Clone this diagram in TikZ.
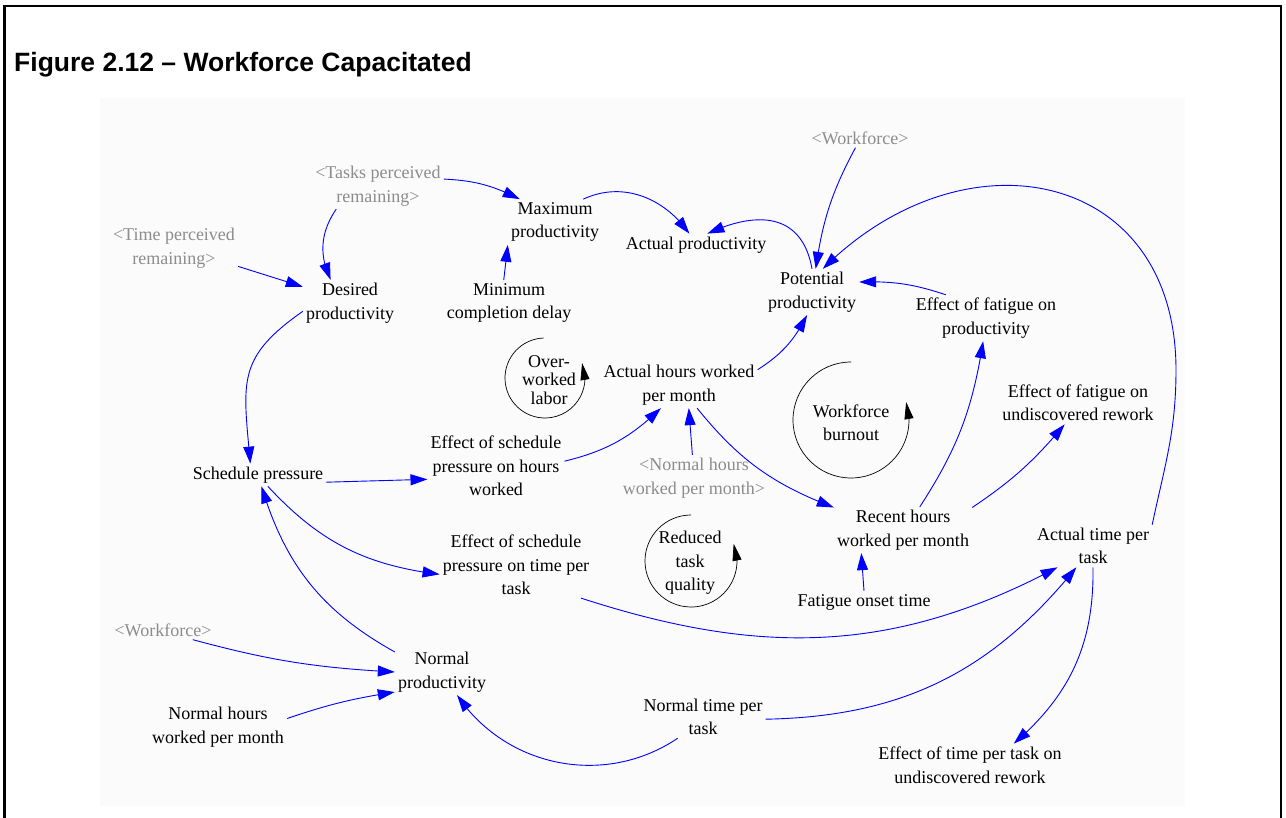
\documentclass[tikz,border=0pt]{standalone}
\usepackage{fontspec}
\setmainfont{Liberation Serif}
\newfontfamily\titlefont{Liberation Sans}
\usetikzlibrary{arrows.meta,bending}

\definecolor{lnkblue}{RGB}{0,0,255}
\definecolor{ghostgray}{RGB}{140,140,140}

\begin{document}
\begin{tikzpicture}[x=1pt,y=1pt,
		var/.style={align=center,inner sep=3pt,font=\fontsize{18}{23.5}\selectfont},
		ghost/.style={var,text=ghostgray},
		lnk/.style={lnkblue,line width=0.9pt,-{Triangle[length=17pt,width=11pt]}},
		cyc/.style={black,line width=0.7pt,-{Triangle[length=17pt,width=9pt,flex]}}]
		
		\useasboundingbox (0,0) rectangle (1286,-818);
		\fill[black!1.5] (100,-98) rectangle (1185,-806);
		\draw[line width=2.5pt] (4.5,-830) |- (1281,-6) -- (1281,-830);
		\node[anchor=base west,inner sep=0pt,font=\titlefont\bfseries\fontsize{26.5}{32}\selectfont] (ttl) at (14,-72) {Figure 2.12 – Workforce Capacitated};
		
		% shadow variables
		\node[ghost] (tpr) at (378,-186) {<Tasks perceived\\remaining>};
		\node[ghost] (tipr) at (174,-248) {<Time perceived\\remaining>};
		\node[ghost] (wfa) at (860,-138) {<Workforce>};
		\node[ghost] (nhs) at (694,-478) {<Normal hours\\worked per month>};
		\node[ghost] (wfb) at (163,-630) {<Workforce>};
		
		% variables
		\node[var] (maxp) at (555,-222) {Maximum\\productivity};
		\node[var] (actp) at (696,-245) {Actual productivity};
		\node[var] (potp) at (812,-292) {Potential\\productivity};
		\node[var] (mcd) at (509,-303) {Minimum\\completion delay};
		\node[var] (desp) at (350,-303) {Desired\\productivity};
		\node[var] (efp) at (986,-318) {Effect of fatigue on\\productivity};
		\node[var] (efr) at (1078,-403) {Effect of fatigue on\\undiscovered rework};
		\node[var] (ahw) at (679,-385) {Actual hours worked\\per month};
		\node[var] (rhw) at (903,-530) {Recent hours\\worked per month};
		\node[var] (atp) at (1093,-546) {Actual time per\\task};
		\node[var] (fot) at (864,-602) {Fatigue onset time};
		\node[var] (sp) at (258,-475) {Schedule pressure};
		\node[var] (esh) at (496,-466) {Effect of schedule\\pressure on hours\\worked};
		\node[var] (est) at (516,-565) {Effect of schedule\\pressure on time per\\task};
		\node[var] (np) at (442,-672) {Normal\\productivity};
		\node[var] (nhw) at (218,-727) {Normal hours\\worked per month};
		\node[var] (ntp) at (703,-717) {Normal time per\\task};
		\node[var] (etr) at (970,-765) {Effect of time per task on\\undiscovered rework};
		
		% loops
		\node[var,font=\fontsize{18}{18.5}\selectfont] (owl) at (549,-380) {Over-\\worked\\labor};
		\node[var] (wbo) at (851,-423) {Workforce\\burnout};
		\node[var] (rtq) at (690,-563) {Reduced\\task\\quality};
		\draw[cyc] (545,-378) ++(92:40) arc[start angle=92,end angle=382,radius=40];
		\draw[cyc] (851,-420) ++(90:58) arc[start angle=90,end angle=378,radius=58];
		\draw[cyc] (691,-561) ++(90:46) arc[start angle=90,end angle=382,radius=46];
		
		\draw[lnk] (tpr.6) to[bend left=12] (maxp.147);
		\draw[lnk] (tpr.209) to[bend right=30] (desp.130);
		\draw[lnk] (tipr.344) -- (desp.161);
		\draw[lnk] (maxp.39) to[out=25,in=125] (actp.120);
		\draw[lnk] (potp.north) to[out=100,in=25,looseness=1.3] (actp.45);
		\draw[lnk] (wfa.245) to[bend right=10] (potp.81);
		\coordinate (arcr) at (1176,-370);
		\draw[lnk] (atp.north east) to[out=78,in=-90] (arcr) to[out=90,in=45,looseness=1.4] (potp.65);
		\draw[lnk] (efp.150) to[bend right=10] (potp.12);
		\draw[lnk] (ahw.11) to[bend right=15] (potp.258);
		\draw[lnk] (mcd.103) -- (maxp.south west);
		
		\draw[lnk] (desp.190) to[out=215,in=95,looseness=1.3] (sp.124);
		\draw[lnk] (sp.354) -- (esh.191);
		\draw[lnk] (esh.4) to[bend right=15] (ahw.232);
		\draw[lnk] (nhs.94) -- (ahw.293);
		\draw[lnk] (ahw.308) to[bend right=15] (rhw.162);
		\draw[lnk] (rhw.54) to[bend right=12] (efp.263);
		\draw[lnk] (rhw.18) to[bend right=8] (efr.238);
		\draw[lnk] (fot.north) -- (rhw.209);
		
		\draw[lnk] (sp.311) to[bend right=20] (est.187);
		\draw[lnk] (np.157) to[bend left=22] (sp.287);
		\draw[lnk] (wfb.342) to[bend right=6] (np.west);
		\draw[lnk] (nhw.7) to[bend left=5] (np.203);
		\draw[lnk] (ntp.220) to[bend left=45] (np.303);
		\draw[lnk] (est.333) to[out=-18,in=208] (atp.211);
		\draw[lnk] (ntp.358) to[bend right=25] (atp.232);
		\draw[lnk] (atp.south) to[bend left=25] (etr.26);
		
	\end{tikzpicture}
\end{document}
